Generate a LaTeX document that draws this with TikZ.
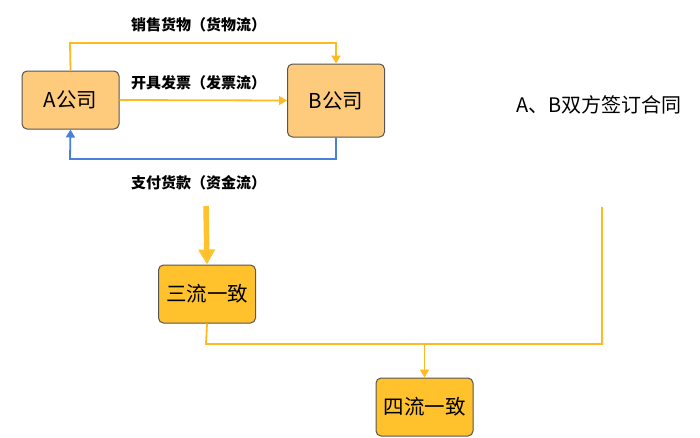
\documentclass[tikz,border=0pt]{standalone}
\usepackage{fontspec}
\setmainfont{Noto Sans CJK SC}
\usetikzlibrary{arrows.meta}
\definecolor{boxlight}{HTML}{FECB7C}
\definecolor{boxgold}{HTML}{FFC12C}
\definecolor{lineorange}{HTML}{FDBA22}
\definecolor{lineblue}{HTML}{4A80DA}
\definecolor{boxedge}{HTML}{555555}
\begin{document}
\begin{tikzpicture}[x=1pt,y=-1pt,
  company/.style={draw=boxedge,line width=1pt,fill=boxlight,rounded corners=5pt,
    minimum width=97pt,font=\fontsize{20.5}{22}\selectfont,inner sep=0pt},
  flowbox/.style={draw=boxedge,line width=1pt,fill=boxgold,rounded corners=5pt,
    minimum width=97pt,minimum height=58pt,font=\fontsize{20.5}{22}\selectfont,inner sep=0pt},
  flowlabel/.style={font=\fontsize{15}{17}\selectfont\bfseries,inner sep=0pt,anchor=west},
  oline/.style={draw=lineorange,line width=1.8pt},
  bline/.style={draw=lineblue,line width=1.8pt},
  tip/.style={-{Triangle[length=8pt,width=9pt]}},
]
\useasboundingbox (0,0) rectangle (700,437);
\node[company,minimum height=58pt] (A) at (70.5,100) {A公司};
\node[company,minimum height=73pt] (B) at (336,100.5) {B公司};
\node[flowbox] (S) at (207,294) {三流一致};
\node[flowbox] (F) at (424.5,407) {四流一致};
\node[font=\fontsize{20}{22}\selectfont,inner sep=0pt,anchor=west] (C) at (516,105) {A、B双方签订合同};

\coordinate (tA) at (70,43);
\coordinate (tB) at (336,43);
\draw[oline,tip] (A.north) -- (tA) -- (tB) -- (B.north);
\node[flowlabel] (L1) at (131,25) {销售货物（货物流）};

\draw[oline,tip] (A.east) -- (B.west);
\node[flowlabel] (L2) at (131,83) {开具发票（发票流）};

\coordinate (bB) at (336,159);
\coordinate (bA) at (70,159);
\draw[bline,tip] (B.south) -- (bB) -- (bA) -- (A.south);
\node[flowlabel] (L3) at (131,183) {支付货款（资金流）};

\coordinate (arrtop) at (206,206);
\draw[draw=boxgold,line width=5.5pt,-{Triangle[length=15pt,width=16pt]}] (arrtop) -- (S.north);

\coordinate (j1) at (206,344);
\coordinate (j2) at (602,344);
\coordinate (j3) at (602,207);
\coordinate (jm) at (424.5,344);
\draw[oline] (S.south) -- (j1) -- (j2) -- (j3);
\draw[oline,tip] (jm) -- (F.north);
\end{tikzpicture}
\end{document}
